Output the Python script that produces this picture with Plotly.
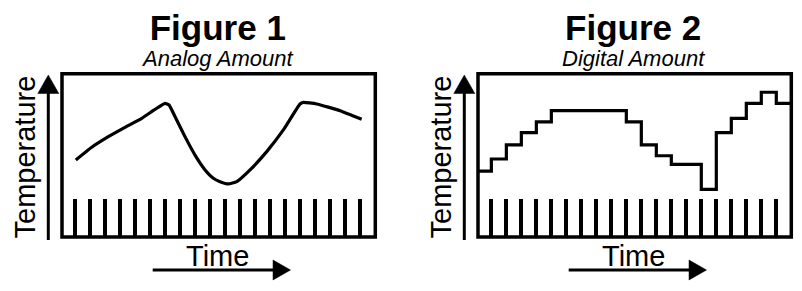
import plotly.graph_objects as go

W, H = 802, 291

# ---- data ----
clock_ticks = list(range(1, 21))
analog_time = [1.03, 2.09, 3.2, 4.31, 5.43, 6.31, 6.98, 7.25, 7.65, 8.31, 8.98, 9.65, 10.2,
               10.65, 11.2, 11.76, 12.65, 13.76, 14.87, 15.98, 16.2, 17.09, 18.65, 20.09]
analog_temp = [47.2, 55.0, 61.5, 67.2, 72.7, 78.2, 81.9, 80.9, 73.7, 61.5, 50.2, 41.1, 36.0,
               33.9, 32.5, 33.9, 41.1, 52.3, 65.6, 81.5, 82.5, 81.5, 77.4, 72.1]
digital_time = [0.11] + list(range(1, 21)) + [21.0]
digital_temp = [40.4, 47.8, 56.4, 63.9, 70.6, 77.4, 77.4, 77.4, 77.4, 77.4, 70.6,
                56.4, 49.8, 44.5, 44.5, 29.2, 63.9, 72.7, 81.9, 88.7, 81.9, 81.9]
titles = ["Figure 1", "Figure 2"]
subtitles = ["Analog Amount", "Digital Amount"]
x_label = "Time"
y_label = "Temperature"

FONT = "Liberation Sans, Arial, Helvetica, sans-serif"
SHIFT = 416  # pixel offset of second panel


def px(x):
    return x / W


def py(y):
    return 1 - y / H


fig = go.Figure()
fig.add_trace(go.Scatter(x=analog_time, y=analog_temp, mode="lines",
                         line=dict(color="black", width=3.2, shape="spline", smoothing=0.4),
                         xaxis="x", yaxis="y", showlegend=False, hoverinfo="skip"))
fig.add_trace(go.Scatter(x=digital_time, y=digital_temp, mode="lines",
                         line=dict(color="black", width=3.2, shape="hv"), xaxis="x2", yaxis="y2",
                         showlegend=False, hoverinfo="skip"))

ydom = [py(237), py(73.8)]
axis_common = dict(range=[0.11, 21.0], showgrid=False, zeroline=False, showline=False,
                   ticks="inside", ticklen=38, tickwidth=3.5, tickcolor="black",
                   tickvals=clock_ticks, showticklabels=False, fixedrange=True)
yaxis_common = dict(range=[0, 100], showgrid=False, zeroline=False, showline=False,
                    showticklabels=False, ticks="", fixedrange=True)

shapes = []
annotations = []
for i in range(2):
    off = SHIFT * i
    suffix = "" if i == 0 else "2"
    # box
    shapes.append(dict(type="rect", xref=f"x{suffix} domain", yref=f"y{suffix} domain",
                       x0=0, x1=1, y0=0, y1=1, line=dict(color="black", width=3.5), layer="above"))
    # vertical arrow
    shapes.append(dict(type="line", xref="paper", yref="paper",
                       x0=px(48.3 + off), x1=px(48.3 + off), y0=py(240), y1=py(92),
                       line=dict(color="black", width=3)))
    shapes.append(dict(type="path", xref="paper", yref="paper",
                       path=f"M {px(37.8+off)},{py(93.5)} L {px(58.8+off)},{py(93.5)} L {px(48.3+off)},{py(75)} Z",
                       fillcolor="black", line=dict(color="black", width=0.5)))
    # horizontal arrow
    shapes.append(dict(type="line", xref="paper", yref="paper",
                       x0=px(152.7 + off), x1=px(274 + off), y0=py(270), y1=py(270),
                       line=dict(color="black", width=3)))
    shapes.append(dict(type="path", xref="paper", yref="paper",
                       path=f"M {px(273+off)},{py(260)} L {px(273+off)},{py(280)} L {px(290.5+off)},{py(270)} Z",
                       fillcolor="black", line=dict(color="black", width=0.5)))
    # title + subtitle as one two-line text
    annotations.append(dict(
        text=(f"<span style='font-size:35px'><b>{titles[i]}</b></span><br>"
              f"<span style='font-size:22px'><i>{subtitles[i]}</i></span>"),
        xref="paper", yref="paper", x=px(217.5 + off), y=py(40), xanchor="center",
        yanchor="middle", align="center", showarrow=False,
        font=dict(family=FONT, size=20, color="black")))
    annotations.append(dict(text=x_label, xref="paper", yref="paper",
                            x=px(217.5 + off), y=py(256), xanchor="center", yanchor="middle",
                            showarrow=False, font=dict(family=FONT, size=29, color="black")))
    annotations.append(dict(text=y_label, xref="paper", yref="paper", textangle=-90,
                            x=px(24 + off), y=py(157.5), xanchor="center", yanchor="middle",
                            showarrow=False, font=dict(family=FONT, size=29, color="black")))

fig.update_layout(
    width=W, height=H, margin=dict(l=0, r=0, t=0, b=0),
    paper_bgcolor="white", plot_bgcolor="white",
    xaxis=dict(domain=[px(62), px(375.3)], anchor="y", **axis_common),
    yaxis=dict(domain=ydom, anchor="x", **yaxis_common),
    xaxis2=dict(domain=[px(62 + SHIFT), px(375.3 + SHIFT)], anchor="y2", **axis_common),
    yaxis2=dict(domain=ydom, anchor="x2", **yaxis_common),
    shapes=shapes, annotations=annotations, showlegend=False,
)

fig.write_html("out.html", config={"displayModeBar": False})
